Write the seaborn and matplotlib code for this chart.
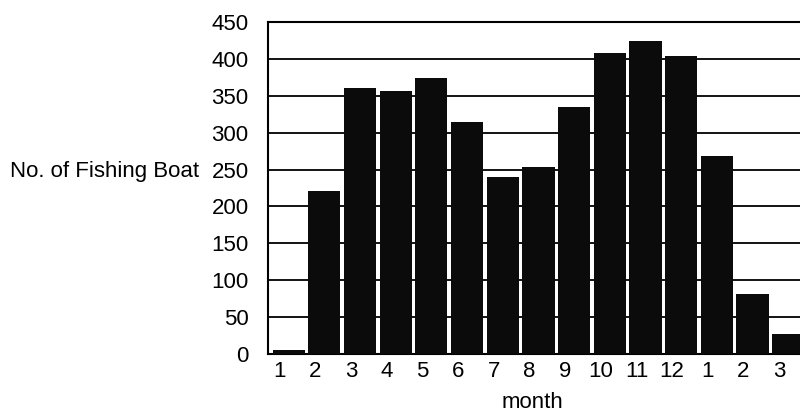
import matplotlib
matplotlib.use("Agg")
import matplotlib.pyplot as plt
import matplotlib.transforms as mtransforms
import seaborn as sns
import pandas as pd

# data
months = ["1", "2", "3", "4", "5", "6", "7", "8", "9", "10", "11", "12", "1", "2", "3"]
boats = [5, 221, 360, 356, 374, 314, 240, 253, 335, 408, 424, 404, 268, 81, 27]
yticks = [0, 50, 100, 150, 200, 250, 300, 350, 400, 450]

df = pd.DataFrame({"idx": list(range(len(months))), "boats": boats})

sns.set_style("white")
plt.rcParams["font.family"] = ["Liberation Sans", "DejaVu Sans"]
plt.rcParams["text.color"] = "black"
plt.rcParams["xtick.color"] = "black"
plt.rcParams["ytick.color"] = "black"
plt.rcParams["axes.labelcolor"] = "black"

fig = plt.figure(figsize=(8, 4.16), dpi=100)
ax = fig.add_axes([268 / 800, 1 - 354 / 416, 532 / 800, 332 / 416])

sns.barplot(data=df, x="idx", y="boats", color="#0b0b0b", width=0.9,
            saturation=1, edgecolor="#0b0b0b", linewidth=0, ax=ax, zorder=3)

ax.set_ylim(0, 450)
ax.set_xlim(-0.58, 14.33)
ax.set_yticks(yticks)
ax.set_yticklabels([str(v) for v in yticks], fontsize=16)
ax.set_xticks(range(len(months)))
ax.set_xticklabels(months, fontsize=16)
ax.tick_params(axis="both", length=0)
ax.tick_params(axis="y", pad=14)
ax.tick_params(axis="x", pad=5)

# labels sit a bit left of the bar centres (3D look in the original)
shift = mtransforms.ScaledTranslation(-9 / 100, 0, fig.dpi_scale_trans)
for lab in ax.get_xticklabels():
    lab.set_transform(lab.get_transform() + shift)

ax.yaxis.grid(True, color="black", linewidth=1.3, zorder=0)
ax.set_axisbelow(True)
for side in ["left", "top", "bottom"]:
    ax.spines[side].set_visible(True)
    ax.spines[side].set_color("black")
    ax.spines[side].set_linewidth(1.5)
ax.spines["right"].set_visible(False)

ax.set_ylabel("No. of Fishing Boat", rotation=0, ha="left", va="center", fontsize=16)
ax.yaxis.set_label_coords((10 - 268) / 532, (354 - 172) / 332)
ax.set_xlabel("month", fontsize=16, va="center")
ax.xaxis.set_label_coords((532 - 268) / 532, (354 - 402) / 332)

fig.savefig("out.png", dpi=100)
